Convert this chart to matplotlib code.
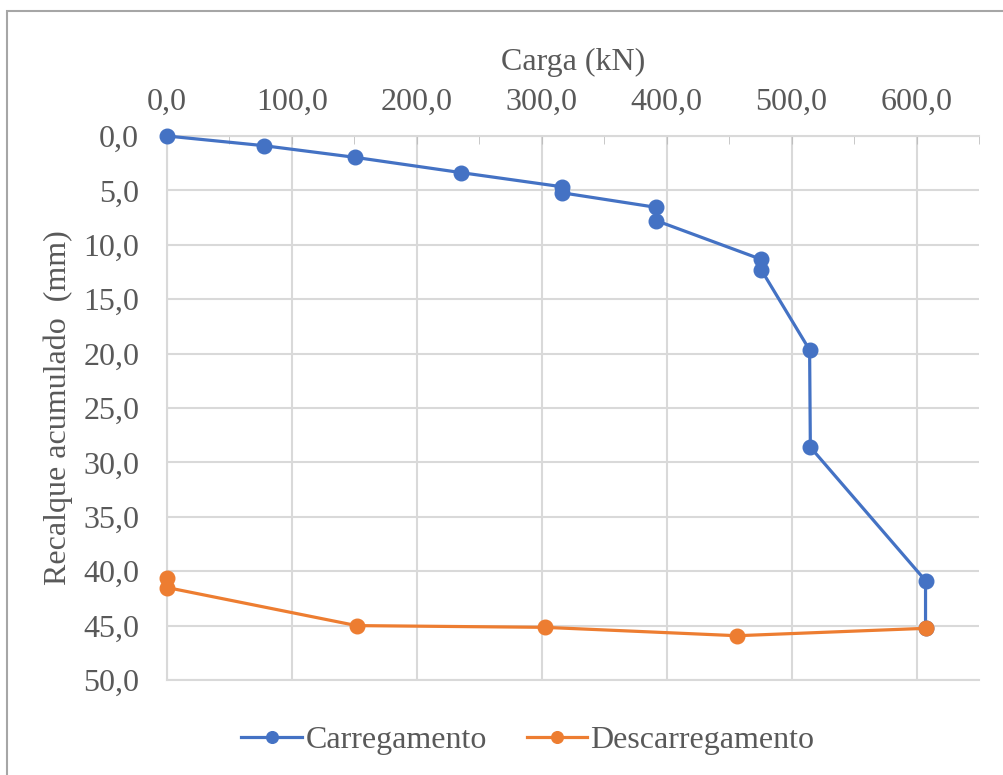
import matplotlib
matplotlib.use('Agg')
import matplotlib.pyplot as plt
from matplotlib.patches import Rectangle
from matplotlib.ticker import MultipleLocator, FuncFormatter

# Carregamento (loading)
carga_load = [0, 77.6, 150.4, 235.7, 315.8, 315.8, 391.7, 391.7, 475.7, 475.7, 514.4, 515.0, 607.2, 607.2]
recalque_load = [0.0, 0.89, 1.96, 3.37, 4.66, 5.21, 6.56, 7.78, 11.34, 12.3, 19.67, 28.6, 40.87, 45.25]
# Descarregamento (unloading)
carga_unload = [607.2, 456.3, 302.4, 151.7, 0.0, 0.0]
recalque_unload = [45.25, 45.93, 45.16, 45.0, 41.5, 40.65]

BLUE, ORANGE = '#4472C4', '#ED7D31'
TXT, GRID = '#595959', '#d9d9d9'
FS = 23

plt.rcParams['font.family'] = ['Liberation Serif', 'DejaVu Serif']

fig = plt.figure(figsize=(10.04, 7.75), dpi=100)
fig.patches.append(Rectangle((7/1004, -0.1), 1.2, 1 - 11/775 + 0.1, transform=fig.transFigure,
                             fill=False, edgecolor='#a6a6a6', lw=1.5))
ax = fig.add_axes([167/1004, 1-680/775, 812/1004, 544/775])

ax.plot(carga_load, recalque_load, color=BLUE, lw=2.3, marker='o', ms=10.5,
        label='Carregamento', zorder=3, clip_on=False)
ax.plot(carga_unload, recalque_unload, color=ORANGE, lw=2.3, marker='o', ms=10.5,
        label='Descarregamento', zorder=4, clip_on=False)

ax.set_xlim(0, 650)
ax.set_ylim(50, 0)
ax.xaxis.set_major_locator(MultipleLocator(100))
ax.xaxis.set_minor_locator(MultipleLocator(50))
ax.yaxis.set_major_locator(MultipleLocator(5))
fmt = FuncFormatter(lambda v, p: f"{v:.1f}".replace('.', ','))
ax.xaxis.set_major_formatter(fmt)
ax.yaxis.set_major_formatter(fmt)
ax.xaxis.tick_top()
ax.xaxis.set_label_position('top')
ax.tick_params(axis='x', which='both', direction='in', length=6, color='#bfbfbf',
               labelsize=FS, labelcolor=TXT, pad=14)
ax.tick_params(axis='y', length=0, labelsize=FS, labelcolor=TXT, pad=20)

ax.grid(True, color=GRID, lw=1.5)
ax.set_axisbelow(True)
ax.spines['right'].set_visible(False)
for s in ['top', 'left', 'bottom']:
    ax.spines[s].set_color(GRID)
    ax.spines[s].set_linewidth(1.5)

ax.set_xlabel('Carga (kN)', fontsize=FS, color=TXT)
ax.xaxis.set_label_coords(0.5, (680-62)/544)
ax.xaxis.label.set_va('center')
ax.set_ylabel('Recalque acumulado  (mm)', fontsize=FS, color=TXT)
ax.yaxis.set_label_coords((58-167)/812, 0.5)
ax.yaxis.label.set_va('center')

leg = fig.legend(loc='center', bbox_to_anchor=(528/1004, 1-740/775), ncol=2, frameon=False,
                 fontsize=FS, handlelength=1.9, handletextpad=0.1, columnspacing=1.25, markerscale=0.8)
for t in leg.get_texts():
    t.set_color(TXT)

fig.savefig('out.png', dpi=100)
